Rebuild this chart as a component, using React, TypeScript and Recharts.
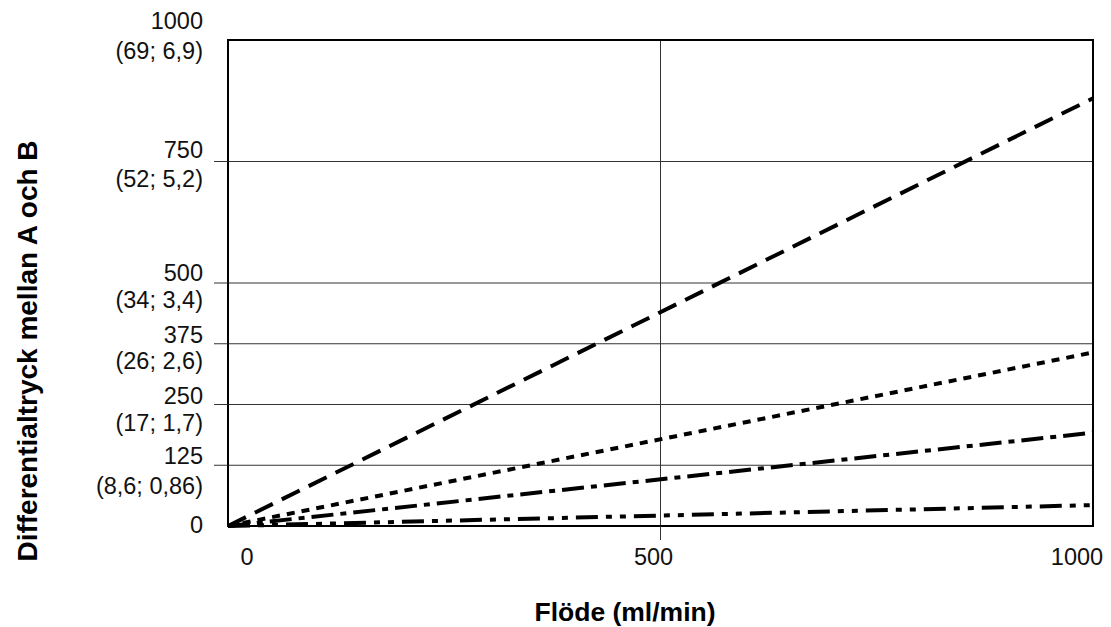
import React from 'react';
import {
  LineChart,
  Line,
  XAxis,
  YAxis,
  CartesianGrid,
  ReferenceArea,
  Label,
} from 'recharts';

// values
const flow = [0, 1000];
const seriesDashed = [0, 880];
const seriesDotted = [0, 357];
const seriesDashDot = [0, 192];
const seriesDashDotDot = [0, 43];

const xTicks = [0, 500, 1000];
const yTicks = [0, 125, 250, 375, 500, 750, 1000];
const ySubLabels = ['', '(8,6; 0,86)', '(17; 1,7)', '(26; 2,6)', '(34; 3,4)', '(52; 5,2)', '(69; 6,9)'];

const FONT = '"Liberation Sans", Arial, Helvetica, sans-serif';

// label offsets (px) from each gridline
const yNumOffset: Record<number, number> = { 0: -1, 125: -9, 250: -9, 375: -9, 500: -10, 750: -12, 1000: -19 };
const ySubOffset: Record<number, number> = { 125: 21, 250: 18, 375: 17, 500: 17, 750: 17, 1000: 11 };
const xLabelShift: Record<number, number> = { 0: 19, 500: -7, 1000: -16 };

const data = flow.map((f, i) => ({
  flow: f,
  a: seriesDashed[i],
  b: seriesDotted[i],
  c: seriesDashDot[i],
  d: seriesDashDotDot[i],
}));

const YTick = (props: any) => {
  const { x, y, payload } = props;
  const v = payload.value as number;
  const idx = yTicks.indexOf(v);
  const sub = ySubLabels[idx];
  return (
    <g>
      {v !== 0 && v !== 1000 && (
        <line x1={x - 14} x2={x} y1={y} y2={y} stroke="#333" strokeWidth={1} />
      )}
      <text x={x - 25} y={y + yNumOffset[v]} textAnchor="end" dominantBaseline="central"
        fontFamily={FONT} fontSize={23.5} fill="#111">
        {v}
      </text>
      {sub && (
        <text x={x - 25} y={y + ySubOffset[v]} textAnchor="end" dominantBaseline="central"
          fontFamily={FONT} fontSize={23.5} fill="#111">
          {sub}
        </text>
      )}
    </g>
  );
};

const XTick = (props: any) => {
  const { x, y, payload } = props;
  const v = payload.value as number;
  return (
    <g>
      {v === 500 && <line x1={x} x2={x} y1={y} y2={y + 14} stroke="#333" strokeWidth={1} />}
      <text x={x + xLabelShift[v]} y={y + 31} textAnchor="middle" dominantBaseline="central"
        fontFamily={FONT} fontSize={23.5} fill="#111">
        {v}
      </text>
    </g>
  );
};

export default function App() {
  return (
    <LineChart
      width={1100}
      height={619}
      data={data}
      margin={{ top: 32, right: 15, bottom: 61, left: 140 }}
    >
      <CartesianGrid stroke="#333" strokeWidth={1} />
      <XAxis
        dataKey="flow"
        type="number"
        domain={[0, 1000]}
        ticks={xTicks}
        axisLine={false}
        tickLine={false}
        tickSize={0}
        tickMargin={0}
        height={40}
        tick={<XTick />}
        interval={0}
      >
        <Label
          content={() => (
            <text x={617} y={604} textAnchor="middle" dominantBaseline="central"
              fontFamily={FONT} fontSize={26.5} fontWeight="bold" fill="#000">
              Flöde (ml/min)
            </text>
          )}
        />
      </XAxis>
      <YAxis
        type="number"
        domain={[0, 1000]}
        ticks={yTicks}
        axisLine={false}
        tickLine={false}
        tickSize={0}
        tickMargin={0}
        width={80}
        tick={<YTick />}
        interval={0}
      >
        <Label
          content={() => (
            <text x={19} y={343} textAnchor="middle" dominantBaseline="central"
              transform="rotate(-90 19 343)"
              fontFamily={FONT} fontSize={28} fontWeight="bold" fill="#000">
              Differentialtryck mellan A och B
            </text>
          )}
        />
      </YAxis>
      <ReferenceArea x1={0} x2={1000} y1={0} y2={1000} fill="none" stroke="#000"
        strokeWidth={2} ifOverflow="visible" />
      <Line dataKey="a" stroke="#000" strokeWidth={4} strokeDasharray="20 10" dot={false}
        isAnimationActive={false} />
      <Line dataKey="b" stroke="#000" strokeWidth={4} strokeDasharray="8 7" dot={false}
        isAnimationActive={false} />
      <Line dataKey="c" stroke="#000" strokeWidth={4} strokeDasharray="22 7 6 7" dot={false}
        isAnimationActive={false} />
      <Line dataKey="d" stroke="#000" strokeWidth={4} strokeDasharray="22 8 6 8 6 8" dot={false}
        isAnimationActive={false} />
    </LineChart>
  );
}
